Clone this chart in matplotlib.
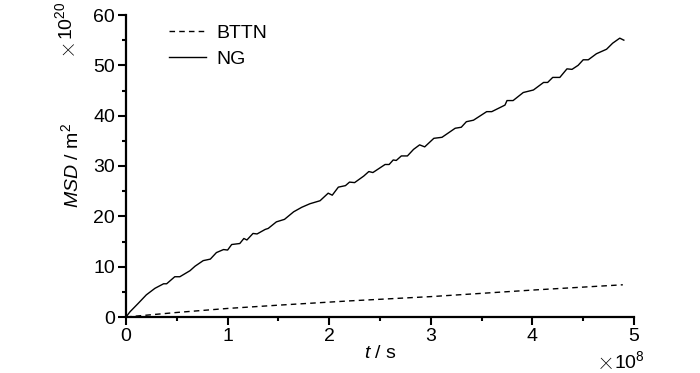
import numpy as np
import matplotlib
matplotlib.use('Agg')
import matplotlib.pyplot as plt
from matplotlib.ticker import MultipleLocator

plt.rcParams['font.family'] = ['Liberation Sans', 'DejaVu Sans']
plt.rcParams['mathtext.fontset'] = 'custom'
plt.rcParams['mathtext.rm'] = 'Liberation Sans'
plt.rcParams['mathtext.it'] = 'Liberation Sans:italic'

# NG curve (t in 1e8 s, MSD in 1e20 m^2)
t_ng = [0.00, 0.04, 0.12, 0.20, 0.285, 0.37, 0.40, 0.48, 0.53, 0.63, 0.68, 0.76, 0.83,
        0.89, 0.96, 1.00, 1.04, 1.12, 1.16, 1.19, 1.25, 1.29, 1.37, 1.40, 1.48, 1.56,
        1.65, 1.73, 1.81, 1.91, 1.99, 2.03, 2.09, 2.16, 2.20, 2.25, 2.34, 2.39, 2.43,
        2.55, 2.59, 2.63, 2.66, 2.71, 2.77, 2.83, 2.89, 2.94, 3.03, 3.11, 3.24, 3.30,
        3.35, 3.42, 3.55, 3.60, 3.73, 3.75, 3.81, 3.91, 4.01, 4.11, 4.15, 4.20, 4.27,
        4.34, 4.39, 4.45, 4.50, 4.55, 4.63, 4.73, 4.79, 4.86, 4.90]
msd_ng = [0.0, 1.05, 2.7, 4.4, 5.7, 6.6, 6.6, 8.0, 8.0, 9.2, 10.1, 11.2, 11.5,
          12.8, 13.4, 13.3, 14.4, 14.6, 15.6, 15.3, 16.6, 16.5, 17.4, 17.6, 18.9, 19.4,
          20.9, 21.8, 22.5, 23.1, 24.6, 24.2, 25.8, 26.1, 26.8, 26.7, 28.0, 28.9, 28.7,
          30.3, 30.3, 31.2, 31.1, 32.0, 32.0, 33.3, 34.2, 33.8, 35.5, 35.7, 37.5, 37.7,
          38.8, 39.1, 40.8, 40.8, 42.1, 43.0, 43.0, 44.6, 45.1, 46.6, 46.6, 47.6, 47.6,
          49.3, 49.2, 50.0, 51.1, 51.1, 52.3, 53.2, 54.4, 55.4, 55.0]

# BTTN curve
t_bttn = [0.0, 0.5, 1.0, 1.5, 2.2, 3.0, 4.0, 4.89]
msd_bttn = [0.0, 0.9, 1.7, 2.35, 3.2, 4.05, 5.35, 6.4]

fig = plt.figure(figsize=(7, 3.73), dpi=100)
ax = fig.add_axes([126/700, 1-317/373, (634-126)/700, (317-15)/373])

ax.plot(t_bttn, msd_bttn, color='black', lw=1.0, ls=(0, (4, 3)), label='BTTN')
ax.plot(t_ng, msd_ng, color='black', lw=1.0, label='NG')

ax.set_xlim(0, 5)
ax.set_ylim(0, 60)
ax.xaxis.set_major_locator(MultipleLocator(1))
ax.xaxis.set_minor_locator(MultipleLocator(0.5))
ax.yaxis.set_major_locator(MultipleLocator(10))
ax.yaxis.set_minor_locator(MultipleLocator(5))
ax.tick_params(which='major', direction='out', length=6, width=1.5, labelsize=14, pad=2)
ax.tick_params(which='minor', direction='out', length=3, width=1.5)

for s in ['top', 'right']:
    ax.spines[s].set_visible(False)
for s in ['left', 'bottom']:
    ax.spines[s].set_linewidth(1.6)

ax.set_xlabel('$t$ / s', fontsize=14, labelpad=0)
ax.set_ylabel('$MSD$ / m$^2$', fontsize=14, labelpad=8)

# multipliers: large thin × plus 10^n
fig.text(613/700, 1-361/373, '×', family='Roboto', fontweight='light', fontsize=20,
         ha='right', va='center')
fig.text(614/700, 1-368/373, '10$^{8}$', fontsize=14, ha='left', va='baseline')
fig.text(66/700, 1-41/373, '×', family='Roboto', fontweight='light', fontsize=20,
         rotation=90, rotation_mode='anchor', ha='right', va='center')
fig.text(72/700, 1-40/373, '10$^{20}$', fontsize=14, rotation=90,
         rotation_mode='anchor', ha='left', va='baseline')

ax.legend(loc='upper left', bbox_to_anchor=(0.055, 1.02), frameon=False, fontsize=14,
          handlelength=1.9, handletextpad=0.5, labelspacing=0.4, borderpad=0.3)

fig.savefig('out.png', dpi=100)
